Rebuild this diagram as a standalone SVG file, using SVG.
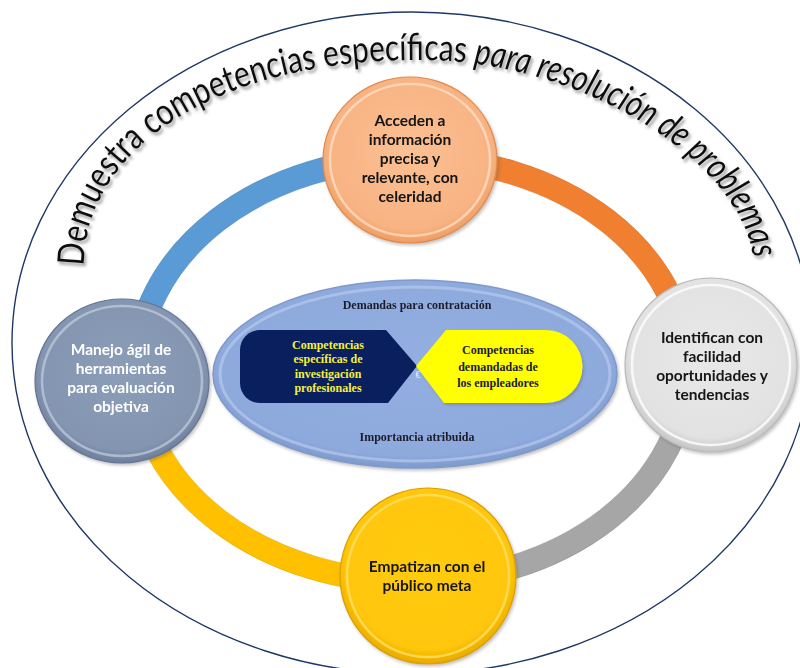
<svg xmlns="http://www.w3.org/2000/svg" width="800" height="668" viewBox="0 0 800 668">
  <defs>
    <style>
      .node-label { font-family: Lato, "Liberation Sans", sans-serif; font-weight: bold; font-size: 15.5px; text-anchor: middle; fill: #141414; }
      .node-label.light { fill: #ffffff; }
      .inner-label { font-family: "Liberation Serif", "Times New Roman", serif; font-weight: bold; font-size: 12px; text-anchor: middle; }
      .title { font-family: Lato, "Liberation Sans", sans-serif; font-size: 37px; fill: #111111; }
      .band { fill: none; stroke-width: 24; }
    </style>
    <filter id="textShadow" x="-10%" y="-10%" width="120%" height="120%">
      <feDropShadow dx="2" dy="3" stdDeviation="1.8" flood-color="#777777" flood-opacity="0.7"/>
    </filter>
    <filter id="softShadow" x="-10%" y="-10%" width="125%" height="125%">
      <feDropShadow dx="1.5" dy="2" stdDeviation="1.5" flood-color="#555555" flood-opacity="0.35"/>
    </filter>
    <radialGradient id="gOrange" cx="50%" cy="45%" r="55%">
      <stop offset="0" stop-color="#fbc093"/>
      <stop offset="0.85" stop-color="#f8b383"/>
      <stop offset="1" stop-color="#ee9d62"/>
    </radialGradient>
    <radialGradient id="gSlate" cx="50%" cy="45%" r="55%">
      <stop offset="0" stop-color="#8b9db7"/>
      <stop offset="0.85" stop-color="#8395b0"/>
      <stop offset="1" stop-color="#6d7f9c"/>
    </radialGradient>
    <radialGradient id="gGray" cx="50%" cy="45%" r="55%">
      <stop offset="0" stop-color="#e8e8e8"/>
      <stop offset="0.85" stop-color="#e2e2e2"/>
      <stop offset="1" stop-color="#c4c4c4"/>
    </radialGradient>
    <radialGradient id="gGold" cx="50%" cy="45%" r="55%">
      <stop offset="0" stop-color="#ffcc12"/>
      <stop offset="0.85" stop-color="#ffc608"/>
      <stop offset="1" stop-color="#e8a900"/>
    </radialGradient>
    <radialGradient id="gCenter" cx="50%" cy="45%" r="55%">
      <stop offset="0" stop-color="#93afe2"/>
      <stop offset="0.88" stop-color="#8eaadd"/>
      <stop offset="1" stop-color="#7e99cc"/>
    </radialGradient>
    <!-- baseline of the arched title -->
    <path id="titleArc" d="M 84,266 C 84,150 215,60 420,60 C 590,60 752,170 754,268"/>
  </defs>

  <rect width="800" height="668" fill="#ffffff"/>

  <!-- outer boundary -->
  <ellipse cx="412" cy="343" rx="400" ry="331" fill="none" stroke="#1f3864" stroke-width="1.4"/>

  <!-- arched title -->
  <text class="title" filter="url(#textShadow)">
    <textPath href="#titleArc" startOffset="0" textLength="850" lengthAdjust="spacingAndGlyphs">Demuestra competencias específicas <tspan font-style="italic">para resolución de problemas</tspan></textPath>
  </text>

  <!-- connectors: cycle band segments -->
  <g id="connectors">
    <path class="band" stroke="#5b9bd5" d="M 412,158 A 275 212 0 0 0 137,370"/>
    <path class="band" stroke="#f07f2f" d="M 412,158 A 275 212 0 0 1 687,370"/>
    <path class="band" stroke="#a6a6a6" d="M 687,370 A 275 212 0 0 1 412,582"/>
    <path class="band" stroke="#ffc000" d="M 412,582 A 275 212 0 0 1 137,370"/>
    <ellipse cx="412" cy="370" rx="287" ry="224" fill="none" stroke="#000000" stroke-opacity="0.08" stroke-width="1"/>
    <ellipse cx="412" cy="370" rx="263" ry="200" fill="none" stroke="#000000" stroke-opacity="0.08" stroke-width="1"/>
  </g>

  <!-- central ellipse -->
  <g id="center-hub" filter="url(#softShadow)">
    <ellipse cx="415" cy="374" rx="202" ry="94" fill="url(#gCenter)" stroke="#8099cb" stroke-width="1.5"/>
    <ellipse cx="415" cy="374" rx="195" ry="87" fill="none" stroke="#b6c9ec" stroke-width="3" stroke-opacity="0.7"/>
    <text class="inner-label" x="417" y="309" fill="#1c1c2c">Demandas para contratación</text>
    <text class="inner-label" x="417" y="441" fill="#1c1c2c">Importancia atribuida</text>
  </g>

  <g id="competencias-profesionales">
    <path d="M 260,330 H 386 L 417,366 L 388,403 H 260 A 20 20 0 0 1 240,383 V 350 A 20 20 0 0 1 260,330 Z" fill="#0a1f5e"/>
    <text class="inner-label" x="328" y="349" fill="#f5f03a" font-size="12.5">Competencias</text>
    <text class="inner-label" x="328" y="363" fill="#f5f03a" font-size="12.5">específicas de</text>
    <text class="inner-label" x="328" y="378" fill="#f5f03a" font-size="12.5">investigación</text>
    <text class="inner-label" x="328" y="392" fill="#f5f03a" font-size="12.5">profesionales</text>
  </g>

  <g id="competencias-empleadores">
    <path d="M 446,330 H 546 A 36 36 0 0 1 546,403 H 444 L 416,366 Z" fill="#ffff00" filter="url(#softShadow)"/>
    <text class="inner-label" x="498" y="354" fill="#1b1b3a" font-size="12.5">Competencias</text>
    <text class="inner-label" x="498" y="371" fill="#1b1b3a" font-size="12.5">demandadas de</text>
    <text class="inner-label" x="498" y="387" fill="#1b1b3a" font-size="12.5">los empleadores</text>
    <text x="418" y="378" font-family="'Liberation Serif', serif" font-size="10" fill="#ffffff" fill-opacity="0.8" text-anchor="middle">€</text>
  </g>

  <!-- cycle nodes -->
  <g id="node-acceden" filter="url(#softShadow)">
    <ellipse cx="410" cy="160" rx="87" ry="83" fill="url(#gOrange)" stroke="#e08a4d" stroke-width="1.2"/>
    <ellipse cx="410" cy="160" rx="80" ry="76" fill="none" stroke="#fde2cc" stroke-width="2.5" stroke-opacity="0.7"/>
    <text class="node-label" x="410" y="126">Acceden a</text>
    <text class="node-label" x="410" y="145">información</text>
    <text class="node-label" x="410" y="164">precisa y</text>
    <text class="node-label" x="410" y="183">relevante, con</text>
    <text class="node-label" x="410" y="202">celeridad</text>
  </g>

  <g id="node-manejo" filter="url(#softShadow)">
    <ellipse cx="122" cy="381" rx="87" ry="82" fill="url(#gSlate)" stroke="#647593" stroke-width="1.2"/>
    <ellipse cx="122" cy="381" rx="80" ry="75" fill="none" stroke="#c3cfdf" stroke-width="2.5" stroke-opacity="0.7"/>
    <text class="node-label light" x="121" y="355">Manejo ágil de</text>
    <text class="node-label light" x="121" y="374">herramientas</text>
    <text class="node-label light" x="121" y="393">para evaluación</text>
    <text class="node-label light" x="121" y="412">objetiva</text>
  </g>

  <g id="node-identifican" filter="url(#softShadow)">
    <ellipse cx="711" cy="365" rx="86" ry="87" fill="url(#gGray)" stroke="#b9b9b9" stroke-width="1.2"/>
    <ellipse cx="711" cy="365" rx="79" ry="80" fill="none" stroke="#fbfbfb" stroke-width="2.5" stroke-opacity="0.9"/>
    <text class="node-label" x="712" y="343">Identifican con</text>
    <text class="node-label" x="712" y="362">facilidad</text>
    <text class="node-label" x="712" y="381">oportunidades y</text>
    <text class="node-label" x="712" y="400">tendencias</text>
  </g>

  <g id="node-empatizan" filter="url(#softShadow)">
    <ellipse cx="428" cy="576" rx="88" ry="88" fill="url(#gGold)" stroke="#d9a000" stroke-width="1.2"/>
    <ellipse cx="428" cy="576" rx="81" ry="81" fill="none" stroke="#ffe066" stroke-width="2.5" stroke-opacity="0.8"/>
    <text class="node-label" x="427" y="572">Empatizan con el</text>
    <text class="node-label" x="427" y="591">público meta</text>
  </g>
</svg>
